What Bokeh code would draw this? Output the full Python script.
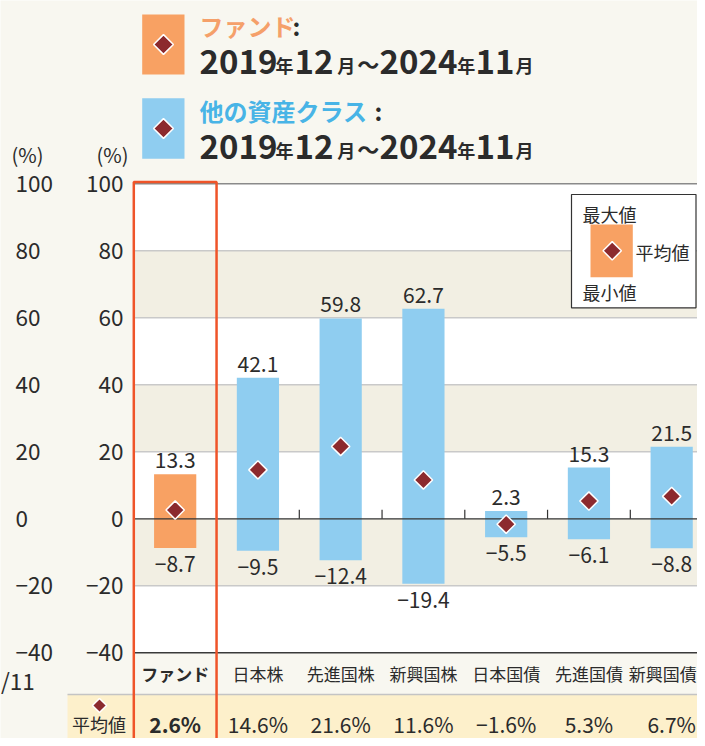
import math
from bokeh.plotting import figure
from bokeh.models import Range1d
from bokeh.core.properties import value
from bokeh.embed import file_html
from bokeh.resources import INLINE

# ---------------- data ----------------
categories = ["ファンド", "日本株", "先進国株", "新興国株", "日本国債", "先進国債", "新興国債"]
max_values = [13.3, 42.1, 59.8, 62.7, 2.3, 15.3, 21.5]
min_values = [-8.7, -9.5, -12.4, -19.4, -5.5, -6.1, -8.8]
avg_values = [2.6, 14.6, 21.6, 11.6, -1.6, 5.3, 6.7]
y_ticks = [-40, -20, 0, 20, 40, 60, 80, 100]
period_parts = ["2019", "年", "12", "月", "〜", "2024", "年", "11", "月"]
legend_texts = ["最大値", "平均値", "最小値"]

# ---------------- style ----------------
FONT = value("Noto Sans CJK JP")
BG = "#f8f7f0"
BAND = "#f2efe3"
ORANGE = "#f8a163"
BLUE = "#8fcdf0"
DIAMOND = "#8c2a2e"
RED = "#ef5429"
TEXT = "#2b2b2b"
ORANGE_TXT = "#f5a06a"
BLUE_TXT = "#48b4e6"
TABLE = "#fdf0cb"

W, H = 697, 738
SLOT, UNIT = 82.75, 3.35      # px per category slot, px per 1 %
X0, Y0 = 133.3, 518.3         # canvas px of first slot edge / of 0 %


def ux(px):
    return (px - X0) / SLOT


def vy(py):
    return (Y0 - py) / UNIT


def fmt(v, suffix=""):
    return f"{v:.1f}{suffix}".replace("-", "\u2212")


x_start, x_end = ux(0), ux(W)
y_start, y_end = vy(H), vy(0)

p = figure(width=W, height=H, x_range=Range1d(x_start, x_end), y_range=Range1d(y_start, y_end),
           output_backend="svg", toolbar_location=None, x_axis_type=None, y_axis_type=None,
           min_border=0, background_fill_color=BG, border_fill_color=BG, outline_line_color=None)

n = len(categories)
xs = [i + 0.5 for i in range(n)]

# chart background and alternating bands
p.quad(left=0, right=x_end, bottom=y_ticks[0], top=y_ticks[-1], fill_color="white", line_color=None)
bands = [(y_ticks[i], y_ticks[i + 1]) for i in range(len(y_ticks) - 1) if i % 2 == 1]
p.quad(left=0, right=x_end, bottom=[b[0] for b in bands], top=[b[1] for b in bands],
       fill_color=BAND, line_color=None)

# table row (average values)
p.quad(left=ux(67), right=x_end, bottom=y_start - 5, top=vy(694), fill_color=TABLE, line_color=None)
p.segment(x0=ux(67), x1=x_end, y0=vy(694), y1=vy(694), line_color="#c4c4c4", line_width=1.5)

# grid lines
grid_ticks = [t for t in y_ticks if t not in (0, y_ticks[0], y_ticks[-1])]
p.segment(x0=0, x1=x_end, y0=grid_ticks, y1=grid_ticks, line_color="#c9c9c9", line_width=1.5)
p.segment(x0=0, x1=x_end, y0=y_ticks[-1], y1=y_ticks[-1], line_color="#8a8a8a", line_width=1.5)
p.segment(x0=0, x1=x_end, y0=y_ticks[0], y1=y_ticks[0], line_color="#3a3a3a", line_width=1.5)

# bars
bar_colors = [ORANGE] + [BLUE] * (n - 1)
p.vbar(x=xs, width=0.51, bottom=min_values, top=max_values, fill_color=bar_colors, line_color=None)

# zero line and slot ticks
p.segment(x0=0, x1=x_end, y0=0, y1=0, line_color="#333333", line_width=1.2)
bounds = list(range(2, n))
p.segment(x0=bounds, x1=bounds, y0=0, y1=2.7, line_color="#333333", line_width=1.2)

# average diamonds
p.scatter(x=xs, y=avg_values, marker="square", angle=math.pi / 4, size=13,
          fill_color=DIAMOND, line_color="white", line_width=1.5)

# value labels (positive y_offset = down)
p.text(x=xs, y=max_values, text=[fmt(v) for v in max_values], text_align="center",
       text_baseline="middle", y_offset=-14, text_font_size="21px", text_color=TEXT, text_font=FONT)
p.text(x=xs, y=min_values, text=[fmt(v) for v in min_values], text_align="center",
       text_baseline="middle", y_offset=16, text_font_size="21px", text_color=TEXT, text_font=FONT)

# category labels and averages
styles = ["bold"] + ["normal"] * (n - 1)
cat_dx = [0] * (n - 1) + [-9]
p.text(x=xs, y=vy(673), text=categories, text_align="center", text_baseline="middle", x_offset=cat_dx,
       text_font_size="17px", text_font_style=styles, text_color=TEXT, text_font=FONT)
p.text(x=xs, y=vy(723), text=[fmt(v, "%") for v in avg_values], text_align="center",
       text_baseline="middle", text_font_size="21px", text_font_style=styles, text_color=TEXT, text_font=FONT)
p.scatter(x=ux(99), y=vy(705), marker="square", angle=math.pi / 4, size=10,
          fill_color=DIAMOND, line_color="white", line_width=1.5)
p.text(x=ux(98.5), y=vy(723), text=["平均値"], text_align="center", text_baseline="middle",
       text_font_size="18px", text_color=TEXT, text_font=FONT)

# red frame around the fund column
p.quad(left=0, right=1, top=vy(181.5), bottom=y_start - 10, fill_color=None, line_color=RED, line_width=2.5)

# y tick labels (two columns)
tick_labels = [fmt(t).replace(".0", "") for t in y_ticks]
p.text(x=ux(123), y=y_ticks, text=tick_labels, text_align="right", text_baseline="middle",
       text_font_size="22.5px", text_color=TEXT, text_font=FONT)
p.text(x=ux(15), y=y_ticks, text=tick_labels, text_align="left", text_baseline="middle",
       text_font_size="22.5px", text_color=TEXT, text_font=FONT)
p.text(x=[ux(27), ux(112)], y=vy(154), text=["(%)", "(%)"], text_align="center", text_baseline="middle",
       text_font_size="20px", text_color=TEXT, text_font=FONT)
p.text(x=ux(0.5), y=vy(679), text=["/11"], text_align="left", text_baseline="middle",
       text_font_size="22.5px", text_color=TEXT, text_font=FONT)

# header
p.quad(left=ux(141.7), right=ux(184), top=[vy(14), vy(97.7)], bottom=[vy(74), vy(158.3)],
       fill_color=[ORANGE, BLUE], line_color=None)
p.scatter(x=ux(163), y=[vy(44), vy(128)], marker="square", angle=math.pi / 4, size=14,
          fill_color=DIAMOND, line_color="white", line_width=1.5)
p.text(x=ux(199), y=[vy(24.5), vy(109.5)], text=["ファンド", "他の資産クラス"], text_align="left",
       text_baseline="middle", text_font_size="24px", text_font_style="bold",
       text_color=[ORANGE_TXT, BLUE_TXT], text_font=FONT)
p.text(x=[ux(292), ux(374)], y=[vy(24.5), vy(109.5)], text=[":", ":"], text_align="left",
       text_baseline="middle", text_font_size="24px", text_font_style="bold", text_color=TEXT, text_font=FONT)

part_x = [199, 275, 294, 336.7, 356.7, 379, 456.7, 475, 515]
part_size = ["33px", "18px", "33px", "18px", "22px", "33px", "18px", "33px", "18px"]
part_mid = [61.3, 64.7, 61.3, 64.7, 62.5, 61.3, 64.7, 61.3, 64.7]   # first line centres
for shift in (0, 85):
    p.text(x=[ux(v) for v in part_x], y=[vy(m + shift) for m in part_mid],
           text=period_parts, text_align="left", text_baseline="middle",
           text_font_size=part_size, text_font_style="bold", text_color=TEXT, text_font=FONT)

# legend box
p.quad(left=ux(571), right=ux(695.5), top=vy(194), bottom=vy(307.3), fill_color="white",
       line_color="#333333", line_width=1.2)
p.quad(left=ux(590), right=ux(632.3), top=vy(224), bottom=vy(276.7), fill_color=ORANGE, line_color=None)
p.scatter(x=ux(611.7), y=vy(250.3), marker="square", angle=math.pi / 4, size=13,
          fill_color=DIAMOND, line_color="white", line_width=1.5)
p.text(x=[ux(582), ux(635), ux(582)], y=[vy(213.3), vy(251.5), vy(291)], text=legend_texts,
       text_align="left", text_baseline="middle", text_font_size="18px", text_color=TEXT, text_font=FONT)

open("out.html", "w").write(file_html(p, INLINE))
